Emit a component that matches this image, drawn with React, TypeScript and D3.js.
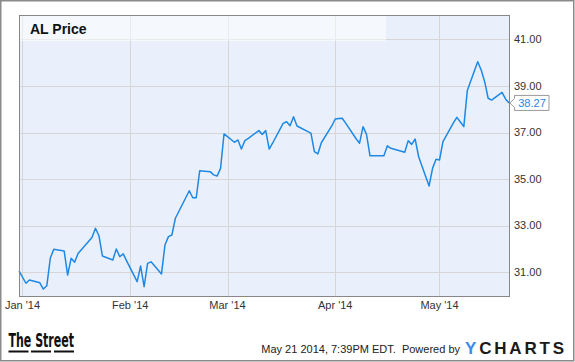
import React, { useEffect, useRef } from 'react';
import * as d3 from 'd3';

// AL closing prices, Dec 31 2013 - May 21 2014
const dates: string[] = [
  '2013-12-31',
  '2014-01-02', '2014-01-03', '2014-01-06', '2014-01-07', '2014-01-08', '2014-01-09', '2014-01-10',
  '2014-01-13', '2014-01-14', '2014-01-15', '2014-01-16', '2014-01-17', '2014-01-21', '2014-01-22',
  '2014-01-23', '2014-01-24', '2014-01-27', '2014-01-28', '2014-01-29', '2014-01-30', '2014-01-31',
  '2014-02-03', '2014-02-04', '2014-02-05', '2014-02-06', '2014-02-07', '2014-02-10', '2014-02-11',
  '2014-02-12', '2014-02-13', '2014-02-14', '2014-02-18', '2014-02-19', '2014-02-20', '2014-02-21',
  '2014-02-24', '2014-02-25', '2014-02-26', '2014-02-27', '2014-02-28',
  '2014-03-03', '2014-03-04', '2014-03-05', '2014-03-06', '2014-03-07', '2014-03-10', '2014-03-11',
  '2014-03-12', '2014-03-13', '2014-03-14', '2014-03-17', '2014-03-18', '2014-03-19', '2014-03-20',
  '2014-03-21', '2014-03-24', '2014-03-25', '2014-03-26', '2014-03-27', '2014-03-28', '2014-03-31',
  '2014-04-01', '2014-04-02', '2014-04-03', '2014-04-04', '2014-04-07', '2014-04-08', '2014-04-09',
  '2014-04-10', '2014-04-11', '2014-04-14', '2014-04-15', '2014-04-16', '2014-04-17', '2014-04-21',
  '2014-04-22', '2014-04-23', '2014-04-24', '2014-04-25', '2014-04-28', '2014-04-29', '2014-04-30',
  '2014-05-01', '2014-05-02', '2014-05-05', '2014-05-06', '2014-05-07', '2014-05-08', '2014-05-09',
  '2014-05-12', '2014-05-13', '2014-05-14', '2014-05-15', '2014-05-16', '2014-05-19', '2014-05-20',
  '2014-05-21',
];

const prices: number[] = [
  31.06,
  30.53, 30.67, 30.55, 30.28, 30.42, 31.6, 31.99,
  31.91, 30.88, 31.6, 31.43, 31.81, 32.49, 32.89,
  32.57, 31.7, 31.53, 32.0, 31.67, 31.79, 31.48,
  30.6, 31.27, 30.38, 31.38, 31.45, 30.93, 32.17,
  32.53, 32.6, 33.32, 34.5, 34.2, 34.2, 35.36,
  35.32, 35.18, 35.13, 35.46, 36.94,
  36.58, 36.68, 36.29, 36.65, 36.75, 37.08, 36.92,
  37.08, 36.29, 36.55, 37.39, 37.46, 37.29, 37.68,
  37.28, 37.05, 36.97, 36.18, 36.08, 36.56, 37.28,
  37.58, 37.6, 37.61, 37.4, 36.73, 36.54, 37.25,
  36.92, 36.0, 36.0, 36.0, 36.43, 36.32, 36.15,
  36.65, 36.49, 36.72, 35.96, 34.7, 35.46, 35.85,
  35.82, 36.61, 37.41, 37.65, 37.45, 37.25, 38.8,
  40.04, 39.68, 39.18, 38.47, 38.39, 38.72, 38.44,
  38.27,
];

const yTicks: number[] = [31, 33, 35, 37, 39, 41];
const xTicks: string[] = ['2014-01-01', '2014-02-01', '2014-03-01', '2014-04-01', '2014-05-01'];

const title = 'AL Price';
const footerText = 'May 21 2014, 7:39PM EDT.  Powered by';

const parse = (s: string) => {
  const [y, m, d] = s.split('-').map(Number);
  return new Date(y, m - 1, d);
};

const W = 575;
const H = 362;
const FONT = '"Liberation Sans", Arial, sans-serif';
const LINE = '#1e88e5';

const App: React.FC = () => {
  const svgRef = useRef<SVGSVGElement>(null);

  useEffect(() => {
    if (!svgRef.current) return;
    const svg = d3.select(svgRef.current);
    svg.selectAll('*').remove();

    const left = 19.5, right = 509.5, top = 15.5, bottom = 296.5;

    const x = d3.scaleTime()
      .domain([parse(dates[0]), parse(dates[dates.length - 1])])
      .range([19, 509]);
    const y = d3.scaleLinear().domain([30, 42]).range([295.6, 16]);

    // outer frame
    svg.append('rect')
      .attr('x', 0.75).attr('y', 0.75)
      .attr('width', W - 2).attr('height', H - 2)
      .attr('fill', '#fff').attr('stroke', '#8a8a8a').attr('stroke-width', 1.5);

    // plot background
    svg.append('rect')
      .attr('x', left).attr('y', top)
      .attr('width', right - left).attr('height', bottom - top)
      .attr('fill', '#eaf0fb');

    // grid
    svg.append('g').selectAll('line').data(yTicks).join('line')
      .attr('x1', left).attr('x2', right)
      .attr('y1', d => Math.round(y(d)) + 0.5).attr('y2', d => Math.round(y(d)) + 0.5)
      .attr('stroke', '#d6d6d6');
    svg.append('g').selectAll('line').data(xTicks.map(parse)).join('line')
      .attr('x1', d => Math.round(x(d)) + 0.5).attr('x2', d => Math.round(x(d)) + 0.5)
      .attr('y1', top).attr('y2', bottom)
      .attr('stroke', '#d6d6d6');

    // title band
    svg.append('rect')
      .attr('x', left).attr('y', top)
      .attr('width', 386 - left).attr('height', 25.5)
      .attr('fill', '#fff').attr('fill-opacity', 0.5);
    svg.append('text')
      .attr('x', 30).attr('y', 33.5)
      .attr('font-family', FONT).attr('font-size', 14).attr('font-weight', 'bold')
      .attr('fill', '#111')
      .text(title);

    // price line
    const data = dates.map((d, i) => ({ date: parse(d), value: prices[i] }));
    const line = d3.line<{ date: Date; value: number }>()
      .x(d => x(d.date))
      .y(d => y(d.value));
    svg.append('path')
      .datum(data)
      .attr('d', line)
      .attr('fill', 'none')
      .attr('stroke', LINE)
      .attr('stroke-width', 1.5)
      .attr('stroke-linejoin', 'round');

    // plot border
    svg.append('rect')
      .attr('x', left).attr('y', top)
      .attr('width', right - left).attr('height', bottom - top)
      .attr('fill', 'none').attr('stroke', '#878787');

    // y labels
    svg.append('g').selectAll('text').data(yTicks).join('text')
      .attr('x', 514).attr('y', d => y(d))
      .attr('dy', '0.33em')
      .attr('font-family', FONT).attr('font-size', 11).attr('fill', '#333')
      .text(d => d3.format('.2f')(d));

    // x labels
    svg.append('g').selectAll('text').data(xTicks.map(parse)).join('text')
      .attr('x', d => x(d)).attr('y', 309)
      .attr('text-anchor', 'middle')
      .attr('font-family', FONT).attr('font-size', 11).attr('fill', '#333')
      .text(d => d3.timeFormat("%b '%y")(d));

    // last value flag
    const last = data[data.length - 1];
    const ly = y(last.value);
    const lx = x(last.date) + 1;
    svg.append('path')
      .attr('d', `M${lx},${ly} L${lx + 4.5},${ly - 4.5} L${lx + 4.5},${ly - 7.5} L${lx + 39},${ly - 7.5} L${lx + 39},${ly + 7.5} L${lx + 4.5},${ly + 7.5} L${lx + 4.5},${ly + 4.5} Z`)
      .attr('fill', '#fff').attr('stroke', '#999');
    svg.append('text')
      .attr('x', lx + 22).attr('y', ly).attr('dy', '0.35em')
      .attr('text-anchor', 'middle')
      .attr('font-family', FONT).attr('font-size', 11).attr('fill', LINE)
      .text(d3.format('.2f')(last.value));

    // footer: The Street logo
    svg.append('text')
      .attr('x', 8.5).attr('y', 346.5)
      .attr('font-family', '"Liberation Sans Narrow", "DejaVu Sans Condensed", sans-serif')
      .attr('font-size', 20).attr('font-weight', 'bold').attr('fill', '#111')
      .attr('textLength', 65.5).attr('lengthAdjust', 'spacingAndGlyphs')
      .text('The Street');
    svg.append('g').selectAll('rect').data([8.5, 31, 54]).join('rect')
      .attr('x', d => d).attr('y', 350.5)
      .attr('width', 20).attr('height', 2)
      .attr('fill', '#111');

    svg.append('text')
      .attr('x', 460).attr('y', 352.5)
      .attr('text-anchor', 'end')
      .attr('font-family', FONT).attr('font-size', 11).attr('fill', '#222')
      .attr('xml:space', 'preserve')
      .style('white-space', 'pre')
      .text(footerText);

    const yc = svg.append('text')
      .attr('x', 465).attr('y', 354)
      .attr('font-family', FONT).attr('font-size', 17).attr('font-weight', 'bold')
      .attr('textLength', 99).attr('lengthAdjust', 'spacing');
    yc.append('tspan').attr('fill', '#3b8be8').text('Y');
    yc.append('tspan').attr('fill', '#1a1a1a').text('CHARTS');
  }, []);

  return (
    <svg
      ref={svgRef}
      width={W}
      height={H}
      style={{ position: 'absolute', left: 0, top: 0, display: 'block' }}
    />
  );
};

export default App;
